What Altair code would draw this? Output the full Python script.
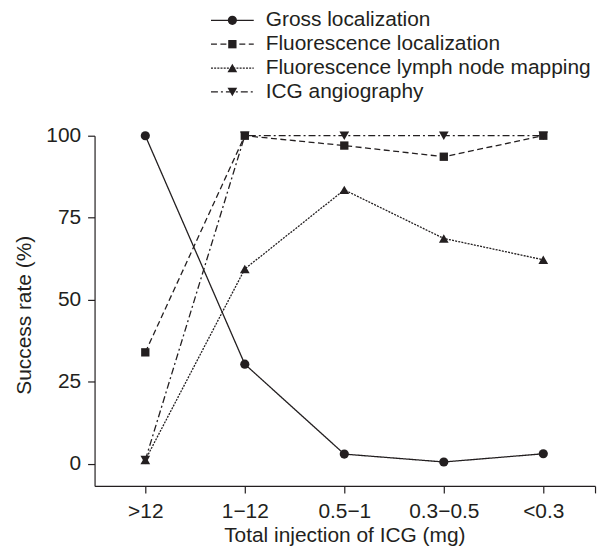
import altair as alt
import pandas as pd

categories = [">12", "1\u221212", "0.5\u22121", "0.3\u22120.5", "<0.3"]
series_names = ["Gross localization", "Fluorescence localization",
                "Fluorescence lymph node mapping", "ICG angiography"]
gross = [100, 30.4, 3.0, 0.6, 3.1]
fluor_loc = [34.0, 100, 97.0, 93.6, 100]
lymph = [1.2, 59.4, 83.5, 68.7, 62.2]
icg = [1.2, 100, 100, 100, 100]
y_ticks = [0, 25, 50, 75, 100]

values = [gross, fluor_loc, lymph, icg]
rows = []
for name, vals in zip(series_names, values):
    for i, (c, v) in enumerate(zip(categories, vals)):
        rows.append({"series": name, "pos": i + 1, "cat": c, "rate": v})
df = pd.DataFrame(rows)

INK = "#231f20"
FONT = "Liberation Sans"
dashes = [[1, 0], [6, 3.5], [2, 1.2], [7, 3, 2, 3]]
shapes = ["circle", "square", "triangle-up", "triangle-down"]
sizes = [85, 70, 95, 95]

label_expr = ("datum.value > 5.2 ? '' : " +
              "[" + ",".join("'" + c + "'" for c in categories) + "][round(datum.value) - 1]")

x_enc = alt.X("pos:Q",
              scale=alt.Scale(domain=[0.49, 5.52], nice=False, zero=False),
              axis=alt.Axis(values=[1, 2, 3, 4, 5, 5.52], labelExpr=label_expr,
                            title="Total injection of ICG (mg)",
                            titleX=251, titleY=50, titleBaseline="middle",
                            tickSize=7, labelPadding=8, grid=False,
                            domainColor=INK, tickColor=INK, labelColor=INK, titleColor=INK,
                            labelFont=FONT, titleFont=FONT, labelFontSize=21,
                            titleFontSize=21, titleFontWeight="normal",
                            domainWidth=1.2, tickWidth=1.2))
y_enc = alt.Y("rate:Q",
              scale=alt.Scale(domain=[-6.7, 100], nice=False, zero=False),
              axis=alt.Axis(values=y_ticks, title="Success rate (%)",
                            titleX=-70, titleY=180, titleBaseline="middle",
                            tickSize=7, labelPadding=7, grid=False,
                            domainColor=INK, tickColor=INK, labelColor=INK, titleColor=INK,
                            labelFont=FONT, titleFont=FONT, labelFontSize=21,
                            titleFontSize=21, titleFontWeight="normal",
                            domainWidth=1.2, tickWidth=1.2))

layers = []
for k, name in enumerate(series_names):
    base = alt.Chart(df).transform_filter(alt.datum.series == name)
    layers.append(base.mark_line(color=INK, strokeWidth=1.3, strokeDash=dashes[k]).encode(x=x_enc, y=y_enc))
    layers.append(base.mark_point(color=INK, filled=True, opacity=1, shape=shapes[k], size=sizes[k])
                  .encode(x="pos:Q", y="rate:Q"))

# legend
leg_df = pd.DataFrame({"series": series_names})
for k, name in enumerate(series_names):
    yv = -116 + 24 * k
    lb = alt.Chart(leg_df).transform_filter(alt.datum.series == name)
    layers.append(lb.mark_rule(color=INK, strokeWidth=1.3, strokeDash=dashes[k])
                  .encode(x=alt.value(117), x2=alt.value(160), y=alt.value(yv)))
    layers.append(lb.mark_point(color=INK, filled=True, opacity=1, shape=shapes[k], size=sizes[k])
                  .encode(x=alt.value(138.5), y=alt.value(yv)))
    layers.append(lb.mark_text(align="left", baseline="middle", font=FONT, fontSize=21, color=INK)
                  .encode(x=alt.value(172), y=alt.value(yv), text="series:N"))

chart = alt.layer(*layers).properties(
    width=503, height=352,
    autosize=alt.AutoSizeParams(type="none"),
    padding={"left": 87, "top": 127, "right": 5, "bottom": 60},
).configure_view(stroke=None)

chart.save("out.html", embed_options={"renderer": "svg", "actions": False})
